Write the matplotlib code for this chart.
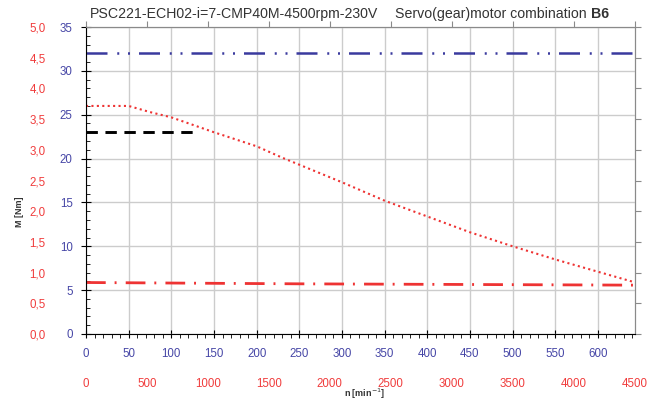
import matplotlib
matplotlib.use("Agg")
import matplotlib.pyplot as plt
import numpy as np

plt.rcParams['font.family'] = ['Liberation Sans', 'DejaVu Sans']

# data (output speed in 1/min, torque in Nm)
n_max = 4500 / 7
curve_n = [0, 50, 75, 100, 150, 200, 230, 250, 300, 350, 400, 450, 500, 550, 600, n_max]
curve_m = [26.0, 26.0, 25.3, 24.7, 23.0, 21.4, 20.1, 19.3, 17.3, 15.2, 13.4, 11.6, 10.0, 8.5, 7.1, 5.9]
max_n = [0, n_max]
max_m = [32, 32]
cont_n = [0, 250, n_max]
cont_m = [5.87, 5.72, 5.57]
stat_n = [0, 128]
stat_m = [23, 23]

blue_ticks = np.arange(0, 36, 5)
red_ticks = np.arange(0, 5.01, 0.5)
rpm_ticks = np.arange(0, 4501, 500)

blue = '#4646a6'
red = '#f03c3c'
grey = '#8a8a8a'

fig = plt.figure(figsize=(6.61, 4.05), dpi=100)
ax = fig.add_axes([86/661, 1 - 334/405, (634.5 - 86)/661, (334 - 27)/405])

ax.plot(max_n, max_m, color='#3a3a9e', lw=1.8,
        linestyle=(0, (8.4, 3.9, 0.8, 3.5, 0.8, 3.6)))
ax.plot(curve_n, curve_m, color='#ee3333', lw=1.5, linestyle=(0, (1, 1.6)))
ax.plot(stat_n, stat_m, color='black', lw=2.1, linestyle=(0, (3.9, 2.6)))
ax.plot(cont_n, cont_m, color='#ee3333', lw=2.0,
        linestyle=(0, (7.1, 3.2, 0.7, 3.3)))

ax.set_xlim(0, n_max)
ax.set_ylim(0, 35)
ax.set_xticks(np.arange(0, 601, 50))
ax.set_xticks(np.arange(0, n_max, 10), minor=True)
ax.set_yticks(blue_ticks)
ax.set_yticks(np.arange(0, 36, 1), minor=True)
ax.grid(True, which='major', color='#cccccc', lw=1)
ax.set_axisbelow(True)

ax.tick_params(axis='y', which='major', direction='inout', length=7, pad=6,
               labelsize=8.3, labelcolor=blue)
ax.tick_params(axis='y', which='minor', direction='in', length=3)
ax.tick_params(axis='x', which='major', direction='inout', length=6, pad=7,
               labelsize=8.3, labelcolor=blue)
ax.tick_params(axis='x', which='minor', direction='out', length=3)
for s in ['top', 'right']:
    ax.spines[s].set_color(grey)

to_red = (lambda y: y / 7, lambda y: y * 7)
to_rpm = (lambda x: x * 7, lambda x: x / 7)

red_l = ax.secondary_yaxis('left', functions=to_red)
red_l.set_yticks(red_ticks)
red_l.set_yticklabels([f'{v:.1f}'.replace('.', ',') for v in red_ticks])
red_l.tick_params(length=0, pad=29, labelsize=8.3, labelcolor=red)
red_l.spines['left'].set_visible(False)

red_r = ax.secondary_yaxis('right', functions=to_red)
red_r.set_yticks(red_ticks)
red_r.set_yticklabels([])
red_r.tick_params(direction='out', length=4, color=grey)
red_r.spines['right'].set_color(grey)

top = ax.secondary_xaxis('top', functions=to_rpm)
top.set_xticks(rpm_ticks)
top.set_xticklabels([])
top.tick_params(direction='out', length=4, color=grey)
top.spines['top'].set_color(grey)

red_b = ax.secondary_xaxis('bottom', functions=to_rpm)
red_b.set_xticks(rpm_ticks)
red_b.set_xticklabels([str(v) for v in rpm_ticks])
red_b.tick_params(length=0, pad=31.5, labelsize=8.3, labelcolor=red)
red_b.spines['bottom'].set_visible(False)

fig.text(90/661, 1 - 14/405, 'PSC221-ECH02-i=7-CMP40M-4500rpm-230V',
         fontsize=10.2, color='#333333', va='center', ha='left')
fig.text(395/661, 1 - 14/405, 'Servo(gear)motor combination',
         fontsize=10.2, color='#333333', va='center', ha='left')
fig.text(591/661, 1 - 14/405, 'B6', fontsize=10.2, color='#333333',
         va='center', ha='left', fontweight='bold')
fig.text(19/661, 1 - 212/405, 'M [Nm]', fontsize=6.5, fontweight='bold',
         color='#333333', rotation=90, va='center', ha='center')
fig.text(365/661, 1 - 394/405, 'n [min$^{-1}$]', fontsize=6.5, fontweight='bold',
         color='#333333', va='center', ha='center')

fig.savefig('out.png', dpi=100)
